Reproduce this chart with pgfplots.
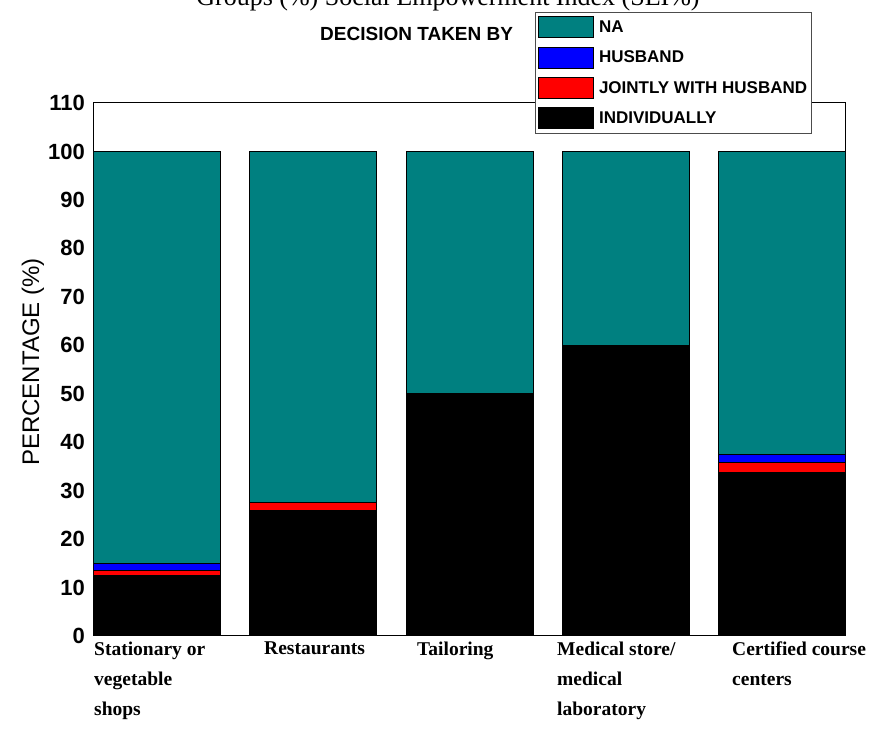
\documentclass[border=0pt]{standalone}
\usepackage{fontspec}
\setmainfont{Liberation Sans}
\newfontfamily\timesfont{Liberation Serif}
\usepackage{pgfplots}
\pgfplotsset{compat=1.18}
\definecolor{naTeal}{RGB}{0,128,128}
\definecolor{husBlue}{RGB}{0,0,255}
\definecolor{jointRed}{RGB}{255,0,0}
\begin{document}
\begin{tikzpicture}
\begin{axis}[
  at={(94pt,99pt)}, anchor=south west,
  scale only axis, width=751pt, height=533pt,
  ybar stacked, bar width=127pt,
  xmin=-0.407, xmax=4.407, ymin=0, ymax=110,
  ytick={0,10,...,110},
  xtick={0,1,2,3,4},
  xticklabels={
    {Stationary or\\vegetable\\shops},
    {\hspace*{14pt}Restaurants},
    {\hspace*{11pt}Tailoring},
    {\hspace*{-5pt}Medical store/\\\hspace*{-5pt}medical\\\hspace*{-5pt}laboratory},
    {\hspace*{14pt}Certified course\\\hspace*{14pt}centers}},
  major tick length=0pt,
  axis line style={black, line width=1pt},
  /pgf/number format/assume math mode=true,
  yticklabel style={font=\bfseries\fontsize{22}{26}\selectfont, inner sep=0pt, xshift=-9pt},
  xticklabel style={font=\timesfont\bfseries\fontsize{19.5}{30}\selectfont, anchor=north west, align=left, inner sep=0pt, xshift=-63.5pt, yshift=-6pt},
  ylabel={PERCENTAGE (\%)},
  ylabel style={at={(axis description cs:-0.0812,0.514)}, anchor=center, font=\fontsize{24}{28}\selectfont},
  reverse legend,
  legend style={at={(axis description cs:0.587,1.1707)}, anchor=north west,
    draw=black!70, line width=0.8pt, font=\bfseries\fontsize{17}{20}\selectfont,
    inner xsep=3pt, inner ysep=4pt, row sep=8.5pt,
    nodes={inner sep=1pt, anchor=west},
    /tikz/every odd column/.style={column sep=4pt}},
  legend cell align=left,
  legend image code/.code={\draw[#1, line width=0.8pt] (0pt,-10.5pt) rectangle (55pt,10.5pt);},
  every axis plot/.append style={draw=black, line width=1pt},
]
\addplot[fill=black] coordinates {(0,12.4) (1,26.0) (2,50) (3,60) (4,33.7)};
\addplot[fill=jointRed] coordinates {(0,1.1) (1,1.6) (2,0) (3,0) (4,2.1)};
\addplot[fill=husBlue] coordinates {(0,1.4) (1,0) (2,0) (3,0) (4,1.7)};
\addplot[fill=naTeal] coordinates {(0,85.1) (1,72.4) (2,50) (3,40) (4,62.5)};
\legend{INDIVIDUALLY, JOINTLY WITH HUSBAND, HUSBAND, NA}
\end{axis}
\node[anchor=base west, font=\bfseries\fontsize{19}{22}\selectfont, inner sep=0pt] at (320pt,694pt) {DECISION TAKEN BY};
\node[anchor=base, font=\timesfont\fontsize{26}{30}\selectfont, inner sep=0pt] at (448pt,729pt) {Groups (\%) Social Empowerment Index (SEI\%)};
\pgfresetboundingbox
\useasboundingbox (0pt,0pt) rectangle (876pt,735pt);
\end{tikzpicture}
\end{document}
